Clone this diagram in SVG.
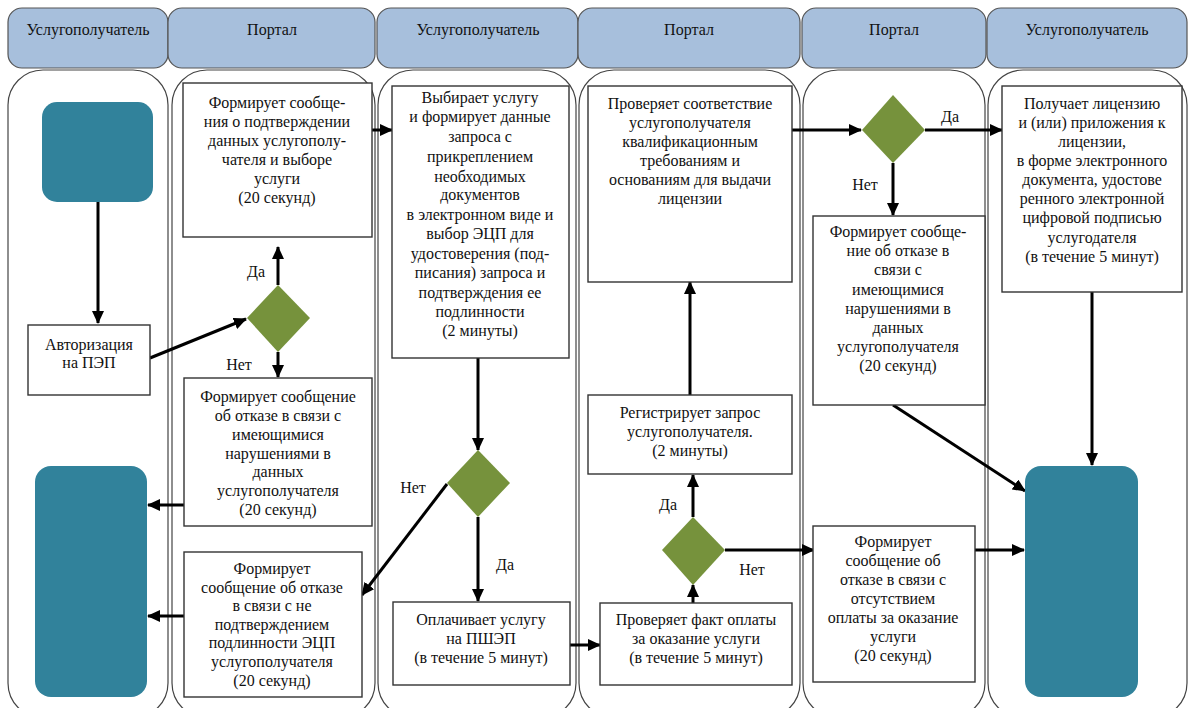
<svg xmlns="http://www.w3.org/2000/svg" width="1195" height="708" viewBox="0 0 1195 708" font-family="Liberation Serif" font-size="16" text-anchor="middle">
<defs>
<marker id="ah" markerUnits="userSpaceOnUse" markerWidth="14" markerHeight="12" refX="12" refY="6" orient="auto">
<path d="M0,0 L13,6 L0,12 Z" fill="#000"/>
</marker>
</defs>
<rect width="1195" height="708" fill="#fff"/>
<g id="lanes" fill="#fff" stroke="#444" stroke-width="1.2">
<rect x="8" y="70" width="160" height="648" rx="35"/>
<rect x="172" y="70" width="203" height="648" rx="35"/>
<rect x="378" y="70" width="198" height="648" rx="35"/>
<rect x="579" y="70" width="221" height="648" rx="35"/>
<rect x="803" y="70" width="182" height="648" rx="35"/>
<rect x="988" y="70" width="199" height="648" rx="35"/>
</g>
<g id="headers">
<g fill="#a7bfdc" stroke="#555" stroke-width="1.2">
<rect x="8" y="8" width="160" height="60" rx="14"/>
<rect x="168" y="8" width="207" height="60" rx="14"/>
<rect x="377" y="8" width="201" height="60" rx="14"/>
<rect x="578" y="8" width="222" height="60" rx="14"/>
<rect x="802" y="8" width="184" height="60" rx="14"/>
<rect x="987" y="8" width="200" height="60" rx="14"/>
</g>
<g fill="#111">
<text x="88" y="35">Услугополучатель</text>
<text x="272" y="35">Портал</text>
<text x="478" y="35">Услугополучатель</text>
<text x="689" y="35">Портал</text>
<text x="894" y="35">Портал</text>
<text x="1087" y="35">Услугополучатель</text>
</g>
</g>
<g id="connectors" stroke="#000" stroke-width="3" fill="none" marker-end="url(#ah)">
<line x1="98" y1="202" x2="98" y2="323"/>
<line x1="150" y1="358" x2="246" y2="319"/>
<line x1="278" y1="285" x2="278" y2="247"/>
<line x1="278" y1="352" x2="278" y2="377"/>
<line x1="184" y1="505" x2="148" y2="505"/>
<line x1="184" y1="616" x2="148" y2="616"/>
<line x1="372" y1="130" x2="392" y2="130"/>
<line x1="478" y1="358" x2="478" y2="450"/>
<line x1="478" y1="517" x2="478" y2="601"/>
<line x1="447" y1="484" x2="362" y2="595"/>
<line x1="570" y1="645" x2="600" y2="645"/>
<line x1="693" y1="603" x2="693" y2="585"/>
<line x1="693" y1="517" x2="693" y2="475"/>
<line x1="690" y1="395" x2="690" y2="282"/>
<line x1="725" y1="550" x2="814" y2="550"/>
<line x1="792" y1="130" x2="861" y2="130"/>
<line x1="925" y1="130" x2="1002" y2="130"/>
<line x1="893" y1="163" x2="893" y2="215"/>
<line x1="893" y1="405" x2="1025" y2="491"/>
<line x1="975" y1="550" x2="1024" y2="550"/>
<line x1="1092" y1="292" x2="1092" y2="465"/>
</g>
<g id="start">
<rect x="42" y="102" width="111" height="100" rx="15" fill="#31829b"/>
</g>
<g id="auth" fill="#111">
<rect x="28" y="325" width="122" height="70" fill="#fff" stroke="#333" stroke-width="1.4"/>
<text x="89" y="350">Авторизация</text>
<text x="89" y="368">на ПЭП</text>
</g>
<g id="dec1" fill="#111">
<polygon points="278,285 310,318 278,352 247,318" fill="#76923c"/>
<text x="256" y="277">Да</text>
<text x="239" y="370">Нет</text>
</g>
<g id="confirm" fill="#111">
<rect x="183" y="83" width="189" height="154" fill="#fff" stroke="#333" stroke-width="1.4"/>
<text x="277" y="108">Формирует сообще-</text>
<text x="277" y="127">ния о подтверждении</text>
<text x="277" y="146">данных услугополу-</text>
<text x="277" y="165">чателя  и выборе</text>
<text x="277" y="184">услуги</text>
<text x="277" y="203">(20 секунд)</text>
</g>
<g id="refuse1" fill="#111">
<rect x="184" y="378" width="188" height="148" fill="#fff" stroke="#333" stroke-width="1.4"/>
<text x="278" y="402">Формирует сообщение</text>
<text x="278" y="421">об отказе в связи с</text>
<text x="278" y="440">имеющимися</text>
<text x="278" y="459">нарушениями в</text>
<text x="278" y="477">данных</text>
<text x="278" y="496">услугополучателя</text>
<text x="278" y="515">(20 секунд)</text>
</g>
<g id="end1">
<rect x="35" y="466" width="112" height="231" rx="16" fill="#31829b"/>
</g>
<g id="refuse2" fill="#111">
<rect x="184" y="552" width="178" height="145" fill="#fff" stroke="#333" stroke-width="1.4"/>
<text x="272" y="574">Формирует</text>
<text x="272" y="593">сообщение об отказе</text>
<text x="272" y="611">в связи с не</text>
<text x="272" y="630">подтверждением</text>
<text x="272" y="648">подлинности ЭЦП</text>
<text x="272" y="667">услугополучателя</text>
<text x="272" y="686">(20 секунд)</text>
</g>
<g id="select" fill="#111">
<rect x="392" y="86" width="177" height="272" fill="#fff" stroke="#333" stroke-width="1.4"/>
<text x="480" y="103">Выбирает услугу</text>
<text x="480" y="122">и формирует данные</text>
<text x="480" y="142">запроса с</text>
<text x="480" y="162">прикреплением</text>
<text x="480" y="182">необходимых</text>
<text x="480" y="200">документов</text>
<text x="480" y="220">в электронном виде и</text>
<text x="480" y="239">выбор ЭЦП для</text>
<text x="480" y="259">удостоверения (под-</text>
<text x="480" y="278">писания) запроса и</text>
<text x="480" y="298">подтверждения ее</text>
<text x="480" y="317">подлинности</text>
<text x="480" y="336">(2 минуты)</text>
</g>
<g id="dec2" fill="#111">
<polygon points="478,450 510,483 478,517 447,483" fill="#76923c"/>
<text x="413" y="493">Нет</text>
<text x="505" y="570">Да</text>
</g>
<g id="pay" fill="#111">
<rect x="393" y="602" width="177" height="83" fill="#fff" stroke="#333" stroke-width="1.4"/>
<text x="481" y="625">Оплачивает услугу</text>
<text x="481" y="644">на ПШЭП</text>
<text x="481" y="663">(в течение 5 минут)</text>
</g>
<g id="check" fill="#111">
<rect x="588" y="86" width="204" height="196" fill="#fff" stroke="#333" stroke-width="1.4"/>
<text x="690" y="109">Проверяет соответствие</text>
<text x="690" y="128">услугополучателя</text>
<text x="690" y="147">квалификационным</text>
<text x="690" y="166">требованиям и</text>
<text x="690" y="185">основаниям для выдачи</text>
<text x="690" y="204">лицензии</text>
</g>
<g id="register" fill="#111">
<rect x="588" y="395" width="204" height="79" fill="#fff" stroke="#333" stroke-width="1.4"/>
<text x="690" y="418">Регистрирует запрос</text>
<text x="690" y="437">услугополучателя.</text>
<text x="690" y="456">(2 минуты)</text>
</g>
<g id="dec3" fill="#111">
<polygon points="693,517 725,550 693,585 662,550" fill="#76923c"/>
<text x="668" y="510">Да</text>
<text x="752" y="575">Нет</text>
</g>
<g id="paycheck" fill="#111">
<rect x="600" y="603" width="192" height="82" fill="#fff" stroke="#333" stroke-width="1.4"/>
<text x="696" y="625">Проверяет факт оплаты</text>
<text x="696" y="644">за оказание услуги</text>
<text x="696" y="663">(в течение  5 минут)</text>
</g>
<g id="dec4" fill="#111">
<polygon points="893,95 925,130 893,163 862,130" fill="#76923c"/>
<text x="950" y="122">Да</text>
<text x="865" y="190">Нет</text>
</g>
<g id="refuse3" fill="#111">
<rect x="813" y="216" width="172" height="189" fill="#fff" stroke="#333" stroke-width="1.4"/>
<text x="898" y="237">Формирует сообще-</text>
<text x="898" y="256">ние об отказе в</text>
<text x="898" y="275">связи с</text>
<text x="898" y="295">имеющимися</text>
<text x="898" y="314">нарушениями в</text>
<text x="898" y="333">данных</text>
<text x="898" y="352">услугополучателя</text>
<text x="898" y="371">(20 секунд)</text>
</g>
<g id="refuse4" fill="#111">
<rect x="813" y="526" width="162" height="156" fill="#fff" stroke="#333" stroke-width="1.4"/>
<text x="893" y="547">Формирует</text>
<text x="893" y="566">сообщение об</text>
<text x="893" y="585">отказе в связи с</text>
<text x="893" y="604">отсутствием</text>
<text x="893" y="623">оплаты за оказание</text>
<text x="893" y="642">услуги</text>
<text x="893" y="661">(20 секунд)</text>
</g>
<g id="license" fill="#111">
<rect x="1002" y="86" width="180" height="206" fill="#fff" stroke="#333" stroke-width="1.4"/>
<text x="1092" y="109">Получает  лицензию</text>
<text x="1092" y="128">и (или) приложения к</text>
<text x="1092" y="147">лицензии,</text>
<text x="1092" y="166">в форме электронного</text>
<text x="1092" y="185">документа, удостове</text>
<text x="1092" y="204">ренного электронной</text>
<text x="1092" y="223">цифровой подписью</text>
<text x="1092" y="243">услугодателя</text>
<text x="1092" y="262">(в течение  5 минут)</text>
</g>
<g id="end2">
<rect x="1025" y="466" width="113" height="231" rx="16" fill="#31829b"/>
</g>
</svg>
